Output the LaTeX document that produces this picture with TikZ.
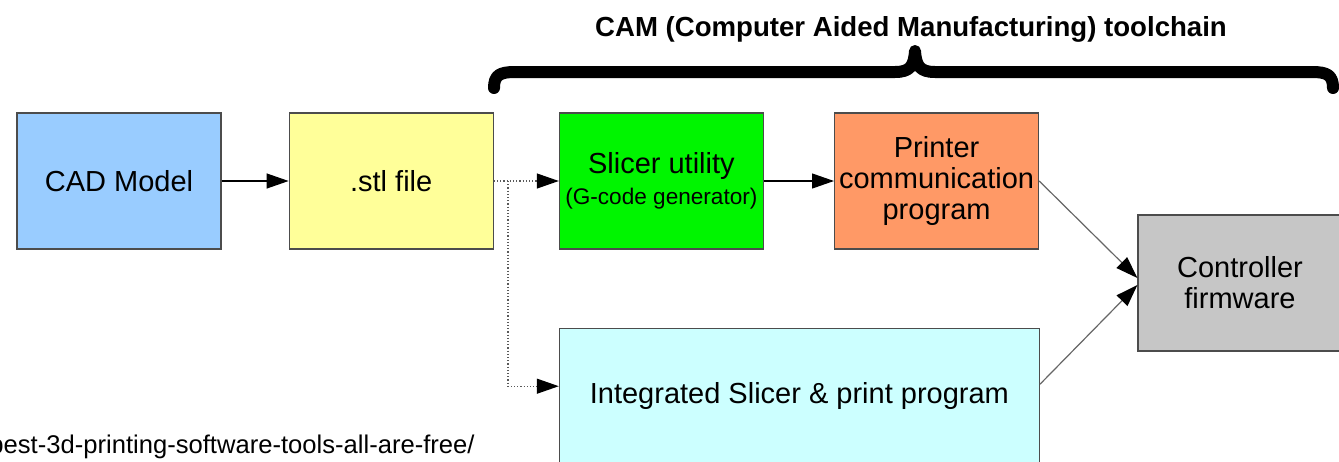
\documentclass[tikz,border=0pt]{standalone}
\usepackage{fontspec}
\setmainfont{Liberation Sans}
\usetikzlibrary{positioning}
\usetikzlibrary{arrows.meta}

\definecolor{cadblue}{RGB}{153,204,255}
\definecolor{stlyellow}{RGB}{255,255,153}
\definecolor{slicergreen}{RGB}{0,245,0}
\definecolor{printerorange}{RGB}{255,153,102}
\definecolor{ctrlgray}{RGB}{198,198,198}
\definecolor{intcyan}{RGB}{204,255,255}

\begin{document}
\begin{tikzpicture}[
	x=0.5pt, y=-0.5pt,
	block/.style={rectangle, draw=black!70, line width=0.6pt, minimum width=102pt, minimum height=68pt, inner sep=0pt, align=center, font=\fontsize{14.5}{15.5}\selectfont},
	flow/.style={-{Triangle[length=11pt, width=7.5pt, color=black]}, line width=0.6pt},
	dots/.style={flow, densely dotted, draw=black!65},
	link/.style={flow, draw=black!60},
]
	\useasboundingbox (0,0) rectangle (1339,461);

	\node[block, fill=cadblue] (cad) at (119,181) {CAD Model};
	\node[block, fill=stlyellow, right=33.5pt of cad] (stl) {.stl file};
	\node[block, fill=slicergreen, right=32.5pt of stl] (slicer) {{\fontsize{14.5}{15}\selectfont Slicer utility}\\{\fontsize{11.3}{13}\selectfont (G-code generator)}};
	\node[block, fill=printerorange, right=35pt of slicer] (printer) {Printer\\communication\\program};
	\node[block, fill=ctrlgray] (ctrl) at (1240,283) {Controller\\firmware};
	\node[block, fill=intcyan, minimum width=240pt, below=39pt of slicer.south west, anchor=north west] (integ) {Integrated Slicer \& print program};

	\node[font=\bfseries\fontsize{13.8}{15}\selectfont] (title) at (911,29) {CAM (Computer Aided Manufacturing) toolchain};
	\node[anchor=base east, font=\fontsize{12.8}{14}\selectfont, inner sep=0pt] (src) at (475,453) {best-3d-printing-software-tools-all-are-free/};

	\draw[line width=6pt, line cap=round, line join=round]
		(494,88) .. controls (494,75) and (500,72) .. (515,72) -- (895,72)
		.. controls (910,72) and (914,66) .. (915,51)
		.. controls (916,66) and (920,72) .. (935,72) -- (1312,72)
		.. controls (1327,72) and (1333,75) .. (1333,88);

	\coordinate (split) at (508,181);
	\draw[flow] (cad) -- (stl);
	\draw[dots] (stl) -- (slicer);
	\draw[dots] (split) |- ([yshift=5pt]integ.west);
	\draw[flow] (slicer) -- (printer);
	\draw[link] (printer.east) -- ([yshift=2.5pt]ctrl.west);
	\draw[link] ([yshift=6pt]integ.east) -- ([yshift=-1pt]ctrl.west);
\end{tikzpicture}
\end{document}
